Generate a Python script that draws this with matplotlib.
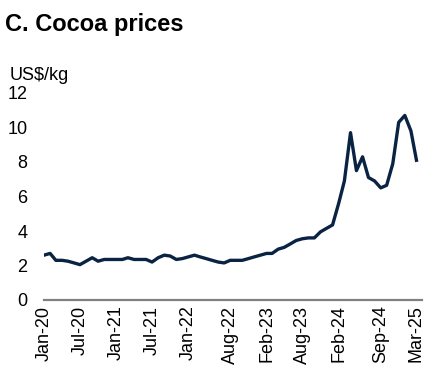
import matplotlib
matplotlib.use("Agg")
from matplotlib import pyplot as plt
import pandas as pd

plt.rcParams['font.family'] = ['Liberation Sans', 'DejaVu Sans']

# monthly cocoa prices, US$/kg, Jan-2020 .. Mar-2025
months = pd.date_range('2020-01-01', '2025-03-01', freq='MS')
prices = [
    2.6, 2.7, 2.3, 2.3, 2.25, 2.15, 2.05, 2.25, 2.45, 2.25, 2.35, 2.35,   # 2020
    2.35, 2.35, 2.45, 2.35, 2.35, 2.35, 2.2, 2.45, 2.6, 2.55, 2.35, 2.4,  # 2021
    2.5, 2.6, 2.5, 2.4, 2.3, 2.2, 2.15, 2.3, 2.3, 2.3, 2.4, 2.5,          # 2022
    2.6, 2.7, 2.7, 2.95, 3.05, 3.25, 3.45, 3.55, 3.6, 3.6, 3.95, 4.15,    # 2023
    4.35, 5.6, 6.9, 9.7, 7.5, 8.3, 7.1, 6.9, 6.5, 6.65, 7.9, 10.3,        # 2024
    10.7, 9.8, 8.1,                                                        # 2025
]
tick_months = ['2020-01', '2020-07', '2021-01', '2021-07', '2022-01', '2022-08',
               '2023-02', '2023-08', '2024-02', '2024-09', '2025-03']
y_ticks = [0, 2, 4, 6, 8, 10, 12]

fig = plt.figure(figsize=(4.37, 3.77), dpi=100)
ax = fig.add_axes([44 / 437, 77 / 377, 378 / 437, 207 / 377])

ax.plot(months, prices, color='#0a2342', lw=2.4, solid_joinstyle='round')

ax.set_ylim(0, 12)
ax.set_yticks(y_ticks)
ax.set_xlim(months[0], months[-1] + pd.DateOffset(days=28))
tick_dates = pd.to_datetime(tick_months)
ax.set_xticks(tick_dates)
ax.set_xticklabels([d.strftime('%b-%y') for d in tick_dates], rotation=90,
                   ha='center', va='top')

for s in ['left', 'right', 'top']:
    ax.spines[s].set_visible(False)
ax.spines['bottom'].set_color('#808080')
ax.spines['bottom'].set_linewidth(1.6)
ax.tick_params(axis='y', length=0, pad=12, labelsize=13)
ax.tick_params(axis='x', length=0, pad=4, labelsize=13)

fig.text(5 / 437, 1 - 31 / 377, 'C. Cocoa prices', fontsize=17,
         fontweight='bold', va='baseline', ha='left')
fig.text(10 / 437, 1 - 75 / 377, 'US$/kg', fontsize=13, va='center', ha='left')

plt.savefig('out.png', dpi=100)
